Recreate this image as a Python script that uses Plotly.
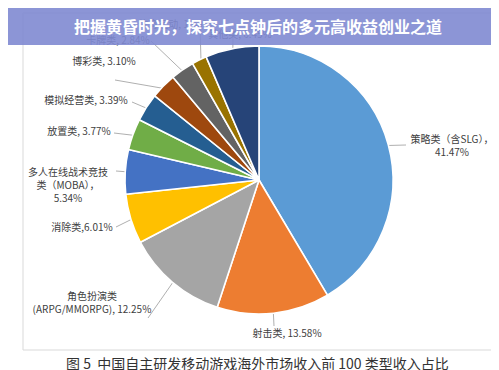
import math
import plotly.graph_objects as go

# ---- data ----
categories = ["策略类（含SLG）", "射击类", "角色扮演类 (ARPG/MMORPG)", "消除类",
              "多人在线战术竞技类（MOBA）", "放置类", "模拟经营类", "博彩类",
              "卡牌类", "体育运动类", "其他类"]
shares = [41.47, 13.58, 12.25, 6.01, 5.34, 3.77, 3.39, 3.10, 2.84, 1.80, 6.45]
label_texts = ["策略类（含SLG），<br>41.47%", "射击类, 13.58%",
               "角色扮演类<br>(ARPG/MMORPG), 12.25%", "消除类,6.01%",
               "多人在线战术竞技<br>类（MOBA），<br>5.34%", "放置类, 3.77%",
               "模拟经营类, 3.39%", "博彩类, 3.10%", "卡牌类, 2.84%",
               "体育运动, 1.80%", "其他类, 6.45%"]
colors = ["#5B9BD5", "#ED7D31", "#A5A5A5", "#FFC000", "#4472C4", "#70AD47",
          "#255E91", "#9E480E", "#636363", "#997300", "#264478"]

title_text = "把握黄昏时光，探究七点钟后的多元高收益创业之道"
caption_text = "图 5  中国自主研发移动游戏海外市场收入前 100 类型收入占比"

# ---- layout geometry (pixels) ----
W, H = 499, 370
CX, CY, R = 251, 172, 134
# label text centres and leader-line attach points (layout positions)
label_pos = [(444, 139), (279, 326), (84, 296), (74, 220), (60, 178), (71, 124),
             (78, 93), (96, 54), (110, 33), (167, 17), (232, 27)]
attach_pos = [(398, 137), (266, 318), (140, 310), (108, 219), (108, 163), (106, 125),
              (124, 94), (107, 72), (143, 33), (192, 18), (225, 20)]

FONT = "Noto Sans CJK SC, Noto Sans, sans-serif"

fig = go.Figure()
fig.add_trace(go.Pie(
    labels=categories, values=shares, sort=False, direction="clockwise",
    rotation=0, textinfo="none", hoverinfo="none", showlegend=False,
    marker=dict(colors=colors, line=dict(color="white", width=1.6)),
    domain=dict(x=[(CX - R) / W, (CX + R) / W], y=[1 - (CY + R) / H, 1 - (CY - R) / H]),
))

total = sum(shares)
lx, ly = [], []
cum = 0.0
for v, (ax_, ay_) in zip(shares, attach_pos):
    theta = 2 * math.pi * (cum + v / 2) / total
    cum += v
    px = CX + 0.97 * R * math.sin(theta)
    py = CY - 0.97 * R * math.cos(theta)
    lx += [px, ax_, None]
    ly += [py, ay_, None]

fig.add_trace(go.Scatter(x=lx, y=ly, mode="lines", hoverinfo="skip", showlegend=False,
                         line=dict(color="#a6a6a6", width=0.9)))
fig.add_trace(go.Scatter(x=[p[0] for p in label_pos], y=[p[1] for p in label_pos],
                         text=label_texts, mode="text", textposition="middle center",
                         hoverinfo="skip", showlegend=False,
                         textfont=dict(family=FONT, size=10, color="#404040")))

annotations = [
    dict(x=0.5, y=1 - 355 / H, xref="paper", yref="paper", yanchor="middle",
         text=caption_text, showarrow=False,
         font=dict(family=FONT, size=14, color="#333333")),
    dict(x=0.5, y=1 - 18 / H, xref="paper", yref="paper", yanchor="middle",
         text="<b>" + title_text + "</b>", showarrow=False,
         font=dict(family=FONT, size=16, color="white")),
]

shapes = [
    dict(type="rect", xref="paper", yref="paper", x0=15 / W, x1=488 / W,
         y0=1 - 342 / H, y1=1 - 5 / H, line=dict(color="#d9d9d9", width=1),
         fillcolor="rgba(0,0,0,0)", layer="below"),
    dict(type="rect", xref="paper", yref="paper", x0=0, x1=1,
         y0=1 - 37 / H, y1=1, line=dict(width=0),
         fillcolor="rgba(128,138,210,0.9)", layer="above"),
]

fig.update_layout(width=W, height=H, margin=dict(l=0, r=0, t=0, b=0),
                  paper_bgcolor="white", plot_bgcolor="rgba(0,0,0,0)",
                  xaxis=dict(range=[0, W], visible=False, fixedrange=True, domain=[0, 1]),
                  yaxis=dict(range=[H, 0], visible=False, fixedrange=True, domain=[0, 1]),
                  annotations=annotations, shapes=shapes)
fig.write_html("out.html")
